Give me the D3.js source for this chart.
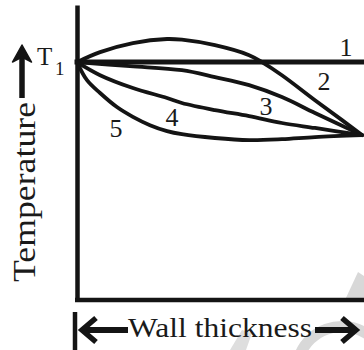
<!DOCTYPE html>
<html>
<head>
<meta charset="utf-8">
<script src="https://cdn.jsdelivr.net/npm/d3@7/dist/d3.min.js"></script>
<style>
  html, body { margin: 0; padding: 0; background: #fff; }
  svg { display: block; }
  text { font-family: "Liberation Serif", "Times New Roman", Times, serif; fill: #1a1a1a; }
</style>
</head>
<body>
<svg id="chart" width="364" height="350"></svg>
<script>
// Temperature profiles across a wall, in units where the hot face T1 = 100.
// x is the fraction of the wall thickness.
const profile1 = [[0, 100], [1, 100]];
const profile2 = [[0, 100], [0.081, 104.2], [0.196, 108.0], [0.316, 109.7], [0.368, 109.4],
                  [0.484, 107.1], [0.604, 102.9], [0.649, 100], [0.719, 94.5], [0.835, 84.0],
                  [0.930, 75.6], [1, 69.3]];
const profile3 = [[0, 100], [0.186, 98.3], [0.368, 96.6], [0.484, 93.7], [0.604, 90.3],
                  [0.719, 85.3], [0.835, 78.6], [1, 69.3]];
const profile4 = [[0, 100], [0.081, 94.5], [0.196, 89.1], [0.316, 84.9], [0.368, 82.8],
                  [0.484, 79.8], [0.604, 77.3], [0.719, 74.4], [0.835, 72.3], [1, 69.3]];
const profile5 = [[0, 100], [0.035, 92.4], [0.081, 87.0], [0.140, 81.1], [0.196, 77.0],
                  [0.256, 73.5], [0.316, 71.0], [0.368, 69.7], [0.484, 68.1], [0.604, 67.2],
                  [0.719, 67.6], [0.835, 68.5], [1, 69.3]];

// Curve number labels: [label, x, temperature at baseline]
const curveLabels = [["1", 0.944, 102.6], ["2", 0.867, 88.3], ["3", 0.663, 77.7],
                     ["4", 0.333, 73.1], ["5", 0.137, 68.5]];

const t1Label = "T";
const t1Sub = "1";
const yTitle = "Temperature";
const xTitle = "Wall thickness";

const W = 364, H = 350;
const svg = d3.select("#chart");

const x = d3.scaleLinear().domain([0, 1]).range([77, 362]);
const y = d3.scaleLinear().domain([0, 124]).range([300, 5]);

// faint watermark shapes behind the drawing
const wm = svg.append("g");
wm.append("path")
  .attr("d", d3.arc()({ innerRadius: 40, outerRadius: 51, startAngle: -2.0, endAngle: 1.3 }))
  .attr("transform", "translate(342,372)")
  .attr("fill", "#d8d8d8");
wm.append("path")
  .attr("d", "M345,300 L358,272 L364,276 L364,300 Z")
  .attr("fill", "#d8d8d8");
wm.append("path")
  .attr("d", "M230,350 L242,330 L252,333 L246,350 Z")
  .attr("fill", "#dedede");

// axes
const yAxis = svg.append("g")
  .attr("transform", `translate(${x(0)},0)`)
  .call(d3.axisLeft(y).tickValues([]).tickSizeOuter(0));
yAxis.select(".domain").attr("stroke", "#141414").attr("stroke-width", 4.5);

svg.append("line")
  .attr("x1", x(0) - 2).attr("x2", W)
  .attr("y1", y(0)).attr("y2", y(0))
  .attr("stroke", "#141414").attr("stroke-width", 4.5);

// profiles
const line = d3.line()
  .x(d => x(d[0])).y(d => y(d[1]))
  .curve(d3.curveCatmullRom.alpha(0.5));

const profiles = [
  { data: profile1, w: 5 },
  { data: profile2, w: 3.8 },
  { data: profile3, w: 3.8 },
  { data: profile4, w: 3.8 },
  { data: profile5, w: 3.8 }
];

svg.append("g").selectAll("path")
  .data(profiles)
  .join("path")
  .attr("d", d => line(d.data))
  .attr("fill", "none")
  .attr("stroke", "#141414")
  .attr("stroke-width", d => d.w)
  .attr("stroke-linecap", (d, i) => i === 0 ? "square" : "round");

svg.append("g").selectAll("text")
  .data(curveLabels)
  .join("text")
  .attr("x", d => x(d[1])).attr("y", d => y(d[2]))
  .attr("text-anchor", "middle")
  .attr("font-size", 26)
  .text(d => d[0]);

// T1 label
svg.append("text").attr("x", 37).attr("y", 65).attr("font-size", 25).text(t1Label);
svg.append("text").attr("x", 55).attr("y", 75).attr("font-size", 19).text(t1Sub);

// y title with upward arrow
svg.append("line").attr("x1", 22).attr("x2", 22).attr("y1", 98).attr("y2", 56)
  .attr("stroke", "#141414").attr("stroke-width", 5.5);
svg.append("path").attr("d", "M12.5,62 L22,45 L31.5,62 L22,57 Z").attr("fill", "#141414")
  .attr("stroke", "#141414").attr("stroke-width", 1.5).attr("stroke-linejoin", "round");

svg.append("text")
  .attr("transform", "translate(35,192) rotate(-90)")
  .attr("text-anchor", "middle")
  .attr("font-size", 32)
  .attr("textLength", 180).attr("lengthAdjust", "spacingAndGlyphs")
  .text(yTitle);

// x title with span arrows
const g = svg.append("g").attr("stroke", "#141414").attr("fill", "none");
g.append("line").attr("x1", 75).attr("x2", 75).attr("y1", 312).attr("y2", H)
  .attr("stroke-width", 4.5);
g.append("line").attr("x1", 86).attr("x2", 128).attr("y1", 330).attr("y2", 330)
  .attr("stroke-width", 6);
g.append("path").attr("d", "M96,318 L82,330 L96,342").attr("stroke-width", 5.5)
  .attr("stroke-linejoin", "miter");
g.append("line").attr("x1", 315).attr("x2", 352).attr("y1", 330).attr("y2", 330)
  .attr("stroke-width", 6);
g.append("path").attr("d", "M342,318 L356,330 L342,342").attr("stroke-width", 5.5)
  .attr("stroke-linejoin", "miter");

svg.append("text")
  .attr("x", 128).attr("y", 337)
  .attr("font-size", 28)
  .attr("textLength", 184).attr("lengthAdjust", "spacingAndGlyphs")
  .text(xTitle);
</script>
</body>
</html>
